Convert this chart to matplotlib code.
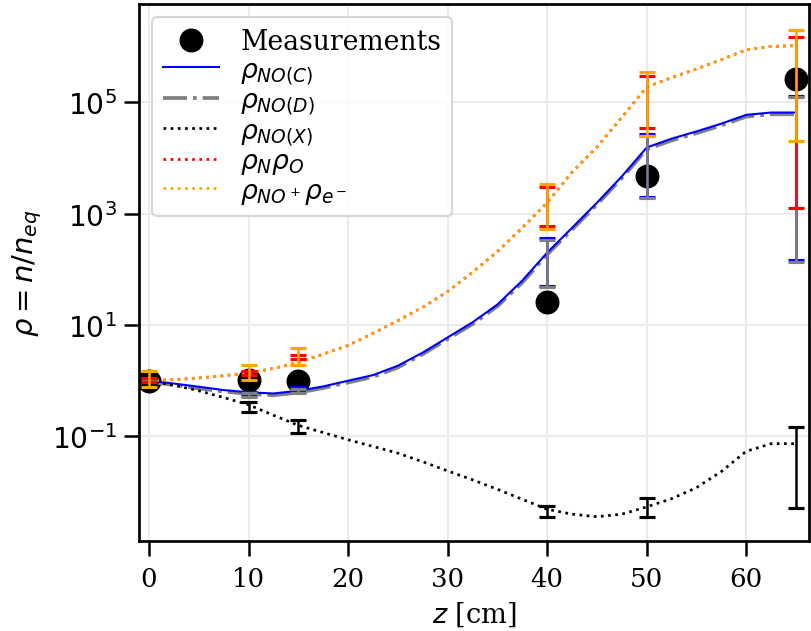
import numpy as np
import matplotlib
matplotlib.use("Agg")
import matplotlib.pyplot as plt
from matplotlib.ticker import NullLocator

plt.rcParams['font.family'] = 'serif'
plt.rcParams['font.serif'] = ['DejaVu Serif']
plt.rcParams['mathtext.fontset'] = 'dejavusans'

# measured positions and values
z_meas = [0, 10, 15, 40, 50, 65]
rho_meas = [0.97, 1.05, 0.98, 26, 4700, 2.6e5]

# model curves along the tube
z_model = [0, 2.5, 5, 7.5, 10, 12.5, 15, 17.5, 20, 22.5, 25, 27.5, 30, 32.5,
           35, 37.5, 40, 42.5, 45, 47.5, 50, 52.5, 55, 57.5, 60, 62.5, 65]
rho_C = [1.0, 0.89, 0.78, 0.68, 0.62, 0.59, 0.66, 0.79, 1.0, 1.26, 1.86, 3.2,
         6.0, 11.2, 23.4, 63, 200, 560, 1580, 4700, 15500, 22400, 30200,
         41700, 60000, 66000, 66000]
rho_D = [0.96, 0.84, 0.73, 0.64, 0.58, 0.55, 0.61, 0.74, 0.93, 1.17, 1.73,
         3.0, 5.6, 10.4, 21.8, 58, 186, 520, 1470, 4370, 14400, 20800, 28100,
         38800, 55800, 61400, 61400]
rho_X = [1.0, 0.83, 0.66, 0.50, 0.37, 0.24, 0.158, 0.117, 0.087, 0.066, 0.050,
         0.035, 0.024, 0.0166, 0.0112, 0.0074, 0.0049, 0.0040, 0.0036, 0.0040,
         0.0054, 0.0076, 0.012, 0.0234, 0.054, 0.074, 0.074]
rho_NO = [1.0, 1.05, 1.12, 1.23, 1.38, 1.66, 2.14, 3.0, 4.3, 7.1, 12, 21, 40,
          89, 210, 560, 1580, 5600, 15800, 54000, 190000, 280000, 400000,
          590000, 890000, 1.02e6, 1.05e6]
rho_ion = [1.0, 1.05, 1.12, 1.23, 1.38, 1.66, 2.14, 3.0, 4.3, 7.1, 12, 21, 40,
           89, 210, 560, 1580, 5600, 15800, 54000, 190000, 280000, 400000,
           590000, 890000, 1.02e6, 1.05e6]

# error bar ranges (low, high) at the measurement positions
C_lo = [0.9, 0.53, 0.62, 51, 2040, 145]
C_hi = [1.1, 0.62, 0.76, 363, 27500, 132000]
D_lo = [0.87, 0.50, 0.59, 48, 1900, 135]
D_hi = [1.06, 0.59, 0.72, 340, 25500, 125000]
X_lo = [0.88, 0.27, 0.117, 0.0036, 0.0036, 0.0051]
X_hi = [1.12, 0.41, 0.195, 0.0055, 0.0078, 0.145]
NO_lo = [0.95, 1.26, 2.5, 600, 35000, 1290]
NO_hi = [1.1, 1.48, 2.95, 3000, 300000, 1.5e6]
ion_lo = [0.76, 1.02, 1.95, 537, 25100, 20000]
ion_hi = [1.48, 1.95, 3.8, 3470, 355000, 2.04e6]

y_ticks = [1e-1, 1e1, 1e3, 1e5]
y_ticklabels = [r'$10^{-1}$', r'$10^{1}$', r'$10^{3}$', r'$10^{5}$']
x_ticks = [0, 10, 20, 30, 40, 50, 60]

fig = plt.figure(figsize=(811 / 150, 632 / 150), dpi=150)
ax = fig.add_axes([139 / 811, 1 - 542 / 632, 670 / 811, 537 / 632])

meas, = ax.plot(z_meas, rho_meas, 'o', color='black', markersize=10.5,
                label='Measurements')
lD, = ax.plot(z_model, rho_D, '-.', color='grey', lw=1.8, label=r'$\rho_{NO(D)}$')
lC, = ax.plot(z_model, rho_C, '-', color='blue', lw=1.0, label=r'$\rho_{NO(C)}$')
lX, = ax.plot(z_model, rho_X, ':', color='black', lw=1.3, label=r'$\rho_{NO(X)}$')
lN, = ax.plot(z_model, rho_NO, ':', color='red', lw=1.3, label=r'$\rho_N\rho_O$')
lI, = ax.plot(z_model, rho_ion, ':', color='orange', lw=1.3,
              label=r'$\rho_{NO^+}\rho_{e^-}$')


def bars(lo, hi, color):
    lo = np.array(lo)
    hi = np.array(hi)
    mid = np.sqrt(lo * hi)
    ax.errorbar(z_meas, mid, yerr=[mid - lo, hi - mid], fmt='none',
                ecolor=color, elinewidth=1.2, capsize=4, capthick=1.5)


bars(C_lo, C_hi, 'blue')
bars(D_lo, D_hi, 'grey')
bars(X_lo, X_hi, 'black')
bars(NO_lo, NO_hi, 'red')
bars(ion_lo, ion_hi, 'orange')

ax.set_yscale('log')
ax.set_xlim(-1, 66.3)
ax.set_ylim(10 ** -2.88, 10 ** 6.77)
ax.yaxis.set_minor_locator(NullLocator())
ax.set_yticks(y_ticks)
ax.set_yticklabels(y_ticklabels, fontsize=13.5)
ax.set_xticks(x_ticks)

ax.grid(True, color='#ebebeb', lw=1.0)
ax.set_axisbelow(True)
for s in ax.spines.values():
    s.set_linewidth(1.3)
ax.tick_params(length=7, width=1.2)
ax.tick_params(axis='x', labelsize=12.5, pad=5)

ax.set_xlabel(r'$z$ [cm]', fontsize=13)
ax.set_ylabel(r'$\rho = n/n_{eq}$', fontsize=14)

ax.legend(handles=[meas, lC, lD, lX, lN, lI], loc='upper left', fontsize=12.8,
          labelspacing=0.02, handlelength=2.1)

fig.savefig('out.png', dpi=150)
